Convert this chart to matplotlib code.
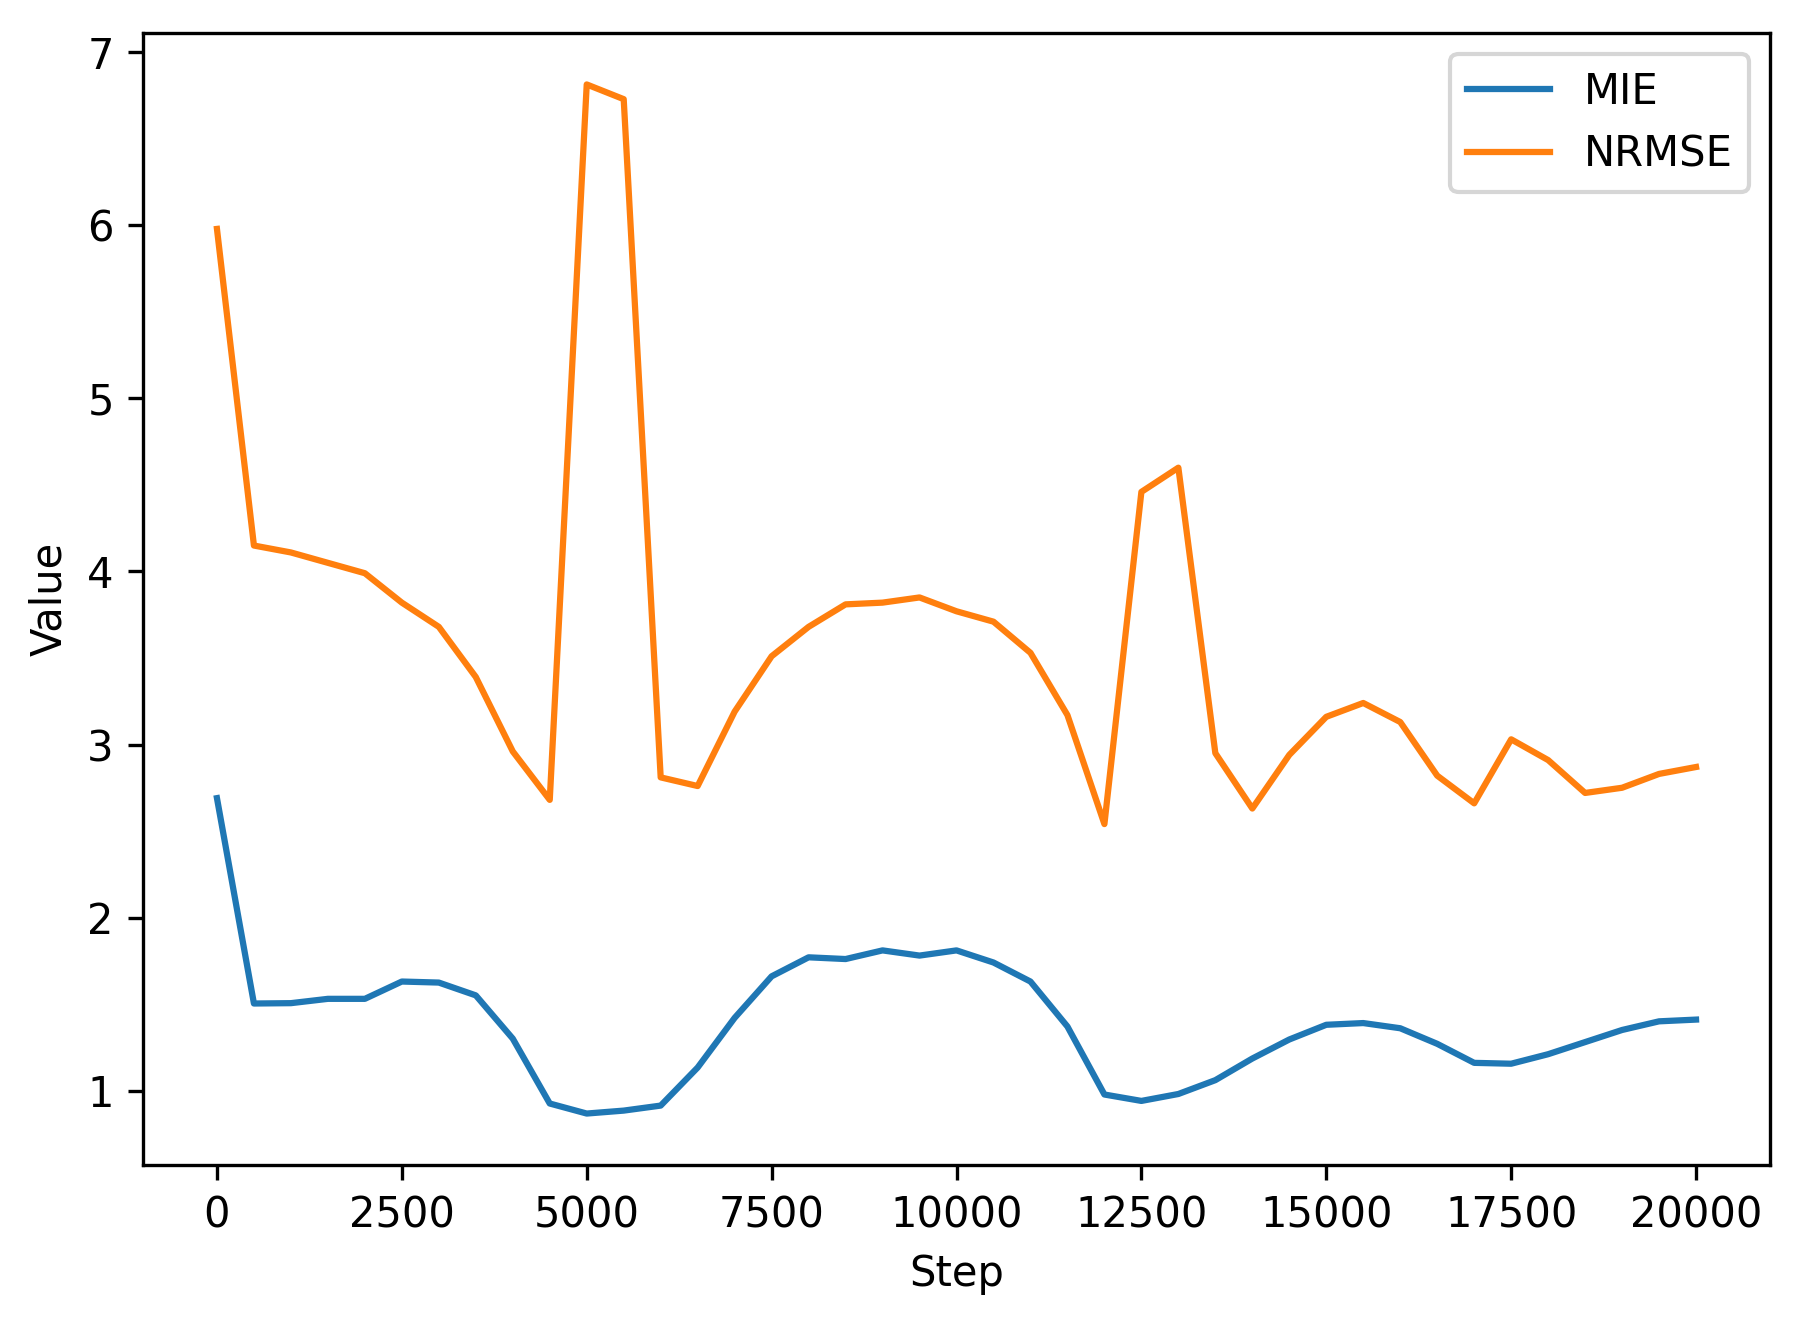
import matplotlib
matplotlib.use("Agg")
import matplotlib.pyplot as plt
import numpy as np

steps = np.arange(0, 20001, 500)

mie = [2.69, 1.503, 1.505, 1.53, 1.53, 1.63, 1.624, 1.55, 1.30, 0.925,
       0.867, 0.884, 0.913, 1.133, 1.42, 1.66, 1.77, 1.76, 1.81, 1.78,
       1.81, 1.74, 1.63, 1.37, 0.977, 0.94, 0.98, 1.06, 1.185, 1.295,
       1.38, 1.39, 1.36, 1.27, 1.16, 1.155, 1.21, 1.28, 1.35, 1.40,
       1.41]

nrmse = [5.98, 4.15, 4.11, 4.05, 3.99, 3.82, 3.68, 3.39, 2.96, 2.68,
         6.815, 6.73, 2.81, 2.76, 3.19, 3.51, 3.68, 3.81, 3.82, 3.85,
         3.77, 3.71, 3.53, 3.17, 2.54, 4.46, 4.60, 2.95, 2.63, 2.94,
         3.16, 3.24, 3.13, 2.82, 2.66, 3.03, 2.91, 2.72, 2.75, 2.83,
         2.87]

fig = plt.figure(figsize=(1803 / 300, 1321 / 300), dpi=300)
ax = fig.add_axes([143 / 1803, 156 / 1321, 1627 / 1803, 1132 / 1321])
ax.plot(steps, mie, label="MIE")
ax.plot(steps, nrmse, label="NRMSE")
ax.set_xlabel("Step")
ax.set_ylabel("Value")
ax.legend()
fig.savefig("out.png", dpi=300)
